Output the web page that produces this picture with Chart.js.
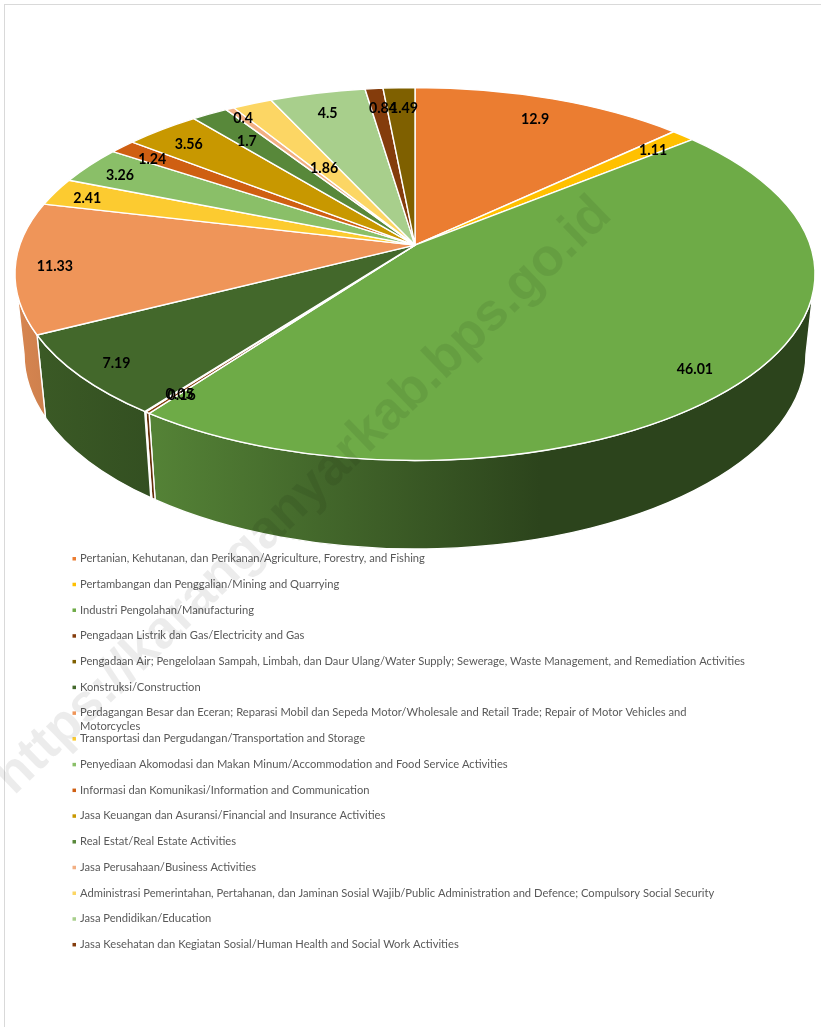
<!DOCTYPE html>
<html>
<head>
<meta charset="utf-8">
<style>
html,body{margin:0;padding:0;background:#fff;}
#frame{position:absolute;left:4px;top:4px;right:0;bottom:0;border-left:1px solid #d9d9d9;border-top:1px solid #d9d9d9;}
canvas{position:absolute;left:0;top:0;}
</style>
<script src="https://cdn.jsdelivr.net/npm/chart.js@4"></script>
</head>
<body>
<div id="frame"></div>
<canvas id="c" width="821" height="1027"></canvas>
<script>
const categories = [
  "Pertanian, Kehutanan, dan Perikanan/Agriculture, Forestry, and Fishing",
  "Pertambangan dan Penggalian/Mining and Quarrying",
  "Industri Pengolahan/Manufacturing",
  "Pengadaan Listrik dan Gas/Electricity and Gas",
  "Pengadaan Air; Pengelolaan Sampah, Limbah, dan Daur Ulang/Water Supply; Sewerage, Waste Management, and Remediation Activities",
  "Konstruksi/Construction",
  "Perdagangan Besar dan Eceran; Reparasi Mobil dan Sepeda Motor/Wholesale and Retail Trade; Repair of Motor Vehicles and\nMotorcycles",
  "Transportasi dan Pergudangan/Transportation and Storage",
  "Penyediaan Akomodasi dan Makan Minum/Accommodation and Food Service Activities",
  "Informasi dan Komunikasi/Information and Communication",
  "Jasa Keuangan dan Asuransi/Financial and Insurance Activities",
  "Real Estat/Real Estate Activities",
  "Jasa Perusahaan/Business Activities",
  "Administrasi Pemerintahan, Pertahanan, dan Jaminan Sosial Wajib/Public Administration and Defence; Compulsory Social Security",
  "Jasa Pendidikan/Education",
  "Jasa Kesehatan dan Kegiatan Sosial/Human Health and Social Work Activities",
  "Jasa Lainnya/Other Services"
];
const values = [12.9, 1.11, 46.01, 0.16, 0.05, 7.19, 11.33, 2.41, 3.26, 1.24, 3.56, 1.7, 0.4, 1.86, 4.5, 0.84, 1.49];
const sliceColors = ["#EB7D31","#FFC000","#6EAB47","#843C0C","#7F6000","#43682B","#EF9559","#FCCB30","#8ABF68","#CF5F12","#C89800","#58883A","#F2AF83","#FCD664","#A8CF8C","#843C0C","#7F6000"];
const labelRadius = [.85,.87,.89,.90,.90,.906,.90,.90,.888,.879,.871,.78,.932,.52,.858,.863,.858];
const labelNudgeX = [2,2,-3,4,4,2,-1,-3,-4,-3,-3,-4,2,-1,-2,4,3];
const legendCount = 16;
const wallShade = [[0,.92],[46,.86],[155,.76],[540,.40],[821,.40]];
const watermark = "https://karanganyarkab.bps.go.id";

// view of the tilted disc
const top3d = {cx:415, cy:274, rx:400, ry:186.5};
const base3d = {cx:415, cy:354, rx:391, ry:195};
const apexShift = 0.155, apexK = Math.sqrt(1 - apexShift*apexShift);

function project(r, a){
  const u = r*Math.cos(a), v = r*Math.sin(a), den = 1 - apexShift*v;
  return [u*apexK/den, (v - apexShift)/den];
}
function param(a){
  const p = project(1, a);
  let t = Math.atan2(p[1], p[0]);
  if (t < 0) t += Math.PI*2;
  return t;
}
function shade(hex, f){
  const n = parseInt(hex.slice(1), 16);
  const ch = s => Math.round(((n >> s) & 255)*f);
  return `rgb(${ch(16)},${ch(8)},${ch(0)})`;
}

const pie3d = {
  id: 'pie3d',
  beforeDatasetDraw(chart, args){
    const ctx = chart.ctx, arcs = args.meta.data, T = top3d, B = base3d;
    ctx.save();
    ctx.lineJoin = 'round';
    ctx.strokeStyle = '#fff';
    ctx.lineWidth = 1.4;
    // side wall
    arcs.forEach((el, i) => {
      const t1 = param(el.startAngle);
      let t2 = param(el.endAngle);
      if (t2 <= t1) t2 += Math.PI*2;
      const g = ctx.createLinearGradient(0,0,chart.width,0);
      wallShade.forEach(s => g.addColorStop(s[0]/chart.width, shade(sliceColors[i], s[1])));
      for (let k = 0; k < 2; k++){
        const lo = Math.max(t1, k*2*Math.PI), hi = Math.min(t2, k*2*Math.PI + Math.PI);
        if (hi <= lo) continue;
        ctx.beginPath();
        ctx.ellipse(T.cx, T.cy, T.rx, T.ry, 0, lo, hi, false);
        ctx.ellipse(B.cx, B.cy, B.rx, B.ry, 0, hi, lo, true);
        ctx.closePath();
        ctx.fillStyle = g;
        ctx.fill();
        ctx.stroke();
      }
    });
    // top face
    const ax = T.cx + T.rx*project(0,0)[0], ay = T.cy + T.ry*project(0,0)[1];
    arcs.forEach((el, i) => {
      ctx.beginPath();
      ctx.moveTo(ax, ay);
      ctx.ellipse(T.cx, T.cy, T.rx, T.ry, 0, param(el.startAngle), param(el.endAngle), false);
      ctx.closePath();
      ctx.fillStyle = sliceColors[i];
      ctx.fill();
      ctx.stroke();
    });
    ctx.restore();
    return false;
  },
  afterDraw(chart){
    const ctx = chart.ctx, T = top3d, arcs = chart.getDatasetMeta(0).data;
    ctx.save();
    // data labels
    ctx.font = 'bold 14.2px Lato, sans-serif';
    ctx.fillStyle = '#000';
    ctx.textAlign = 'center';
    ctx.textBaseline = 'middle';
    arcs.forEach((el, i) => {
      const p = project(labelRadius[i], (el.startAngle + el.endAngle)/2);
      ctx.fillText(String(values[i]), T.cx + T.rx*p[0] + labelNudgeX[i], T.cy + T.ry*p[1] + 1.5);
    });
    // legend
    ctx.font = '11.18px Lato, sans-serif';
    ctx.textAlign = 'left';
    categories.slice(0, legendCount).forEach((name, i) => {
      const y = 558.5 + i*25.73;
      ctx.fillStyle = sliceColors[i];
      ctx.fillRect(72.5, y - 1.5, 3.5, 3.5);
      ctx.fillStyle = '#595959';
      name.split('\n').forEach((line, j) => ctx.fillText(line, 80, y + j*14));
    });
    // watermark
    ctx.translate(14, 796);
    ctx.rotate(-44*Math.PI/180);
    ctx.font = 'bold 53px "Liberation Sans", Arial, sans-serif';
    ctx.fillStyle = 'rgba(0,0,0,0.075)';
    ctx.textBaseline = 'alphabetic';
    ctx.fillText(watermark, 0, 0);
    ctx.restore();
  }
};

new Chart(document.getElementById('c'), {
  type: 'pie',
  data: { labels: categories, datasets: [{ data: values, backgroundColor: sliceColors, borderColor: '#fff', borderWidth: 1.4 }] },
  options: {
    responsive: false,
    animation: false,
    plugins: { legend: { display: false }, tooltip: { enabled: false } }
  },
  plugins: [pie3d]
});
</script>
</body>
</html>
